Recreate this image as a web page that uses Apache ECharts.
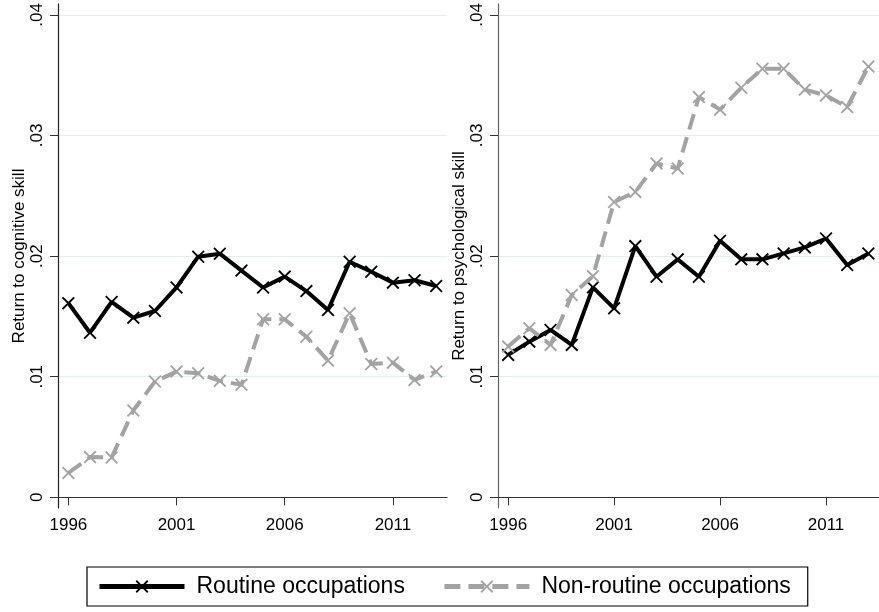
<!DOCTYPE html>
<html>
<head>
<meta charset="utf-8">
<script src="https://cdn.jsdelivr.net/npm/echarts@6/dist/echarts.min.js"></script>
<style>
  html, body { margin: 0; padding: 0; background: #fff; }
  #main { width: 879px; height: 612px; }
</style>
</head>
<body>
<div id="main"></div>
<script>
/* data */
const years = [1996, 1997, 1998, 1999, 2000, 2001, 2002, 2003, 2004,
               2005, 2006, 2007, 2008, 2009, 2010, 2011, 2012, 2013];

const cogRoutine    = [0.0161, 0.01365, 0.0162, 0.0149, 0.01545, 0.0174, 0.01995, 0.0202, 0.0188,
                       0.0174, 0.0183, 0.0171, 0.01553, 0.01953, 0.0187, 0.0178, 0.0180, 0.01752];
const cogNonRoutine = [0.00202, 0.00334, 0.00331, 0.0072, 0.0096, 0.01043, 0.01029, 0.00966, 0.00933,
                       0.01476, 0.01476, 0.01332, 0.01134, 0.01526, 0.01106, 0.01117, 0.00974, 0.01043];
const psyRoutine    = [0.01181, 0.01291, 0.01388, 0.01264, 0.01741, 0.01567, 0.02083, 0.01829, 0.01973,
                       0.01829, 0.02127, 0.01973, 0.01973, 0.02022, 0.02072, 0.02146, 0.01926, 0.02022];
const psyNonRoutine = [0.0125, 0.01402, 0.01264, 0.01677, 0.01834, 0.02449, 0.02532, 0.02767, 0.02726,
                       0.03318, 0.03214, 0.03396, 0.03553, 0.03553, 0.0338, 0.03332, 0.03235, 0.03572];

const xTicks = [1996, 2001, 2006, 2011];
const yTicks = [0, 0.01, 0.02, 0.03, 0.04];

const seriesNames = ['Routine occupations', 'Non-routine occupations'];
const yTitles = ['Return to cognitive skill', 'Return to psychological skill'];

/* filled "x" marker */
const CROSS = 'path://M0,1L1,0L5,4L9,0L10,1L6,5L10,9L9,10L5,6L1,10L0,9L4,5Z';
const BLACK = '#000000';
const GREY  = '#a3a3a3';
const FONT  = 'Liberation Sans, Arial, sans-serif';

const pairs = (vals) => years.map((y, i) => [y, vals[i]]);
const fmtY  = (v) => (v === 0 ? '0' : String(+v.toFixed(2)).replace('0.', '.'));

const xAxisOf = (gridIndex) => ({
  type: 'value', gridIndex,
  min: 1995.52, max: 2013.5,
  axisLine: { show: true, lineStyle: { color: '#333', width: 1.2 } },
  axisTick: { show: true, length: 8, customValues: xTicks, lineStyle: { color: '#333' } },
  axisLabel: { customValues: xTicks, margin: 9, fontSize: 17, color: '#000',
               fontFamily: FONT, formatter: (v) => String(v) },
  splitLine: { show: false }
});

const yAxisOf = (gridIndex, lineColor) => ({
  type: 'value', gridIndex,
  min: -0.00088, max: 0.0409,
  name: yTitles[gridIndex], nameLocation: 'middle', nameGap: 29,
  nameTextStyle: { fontSize: 17, color: '#000', fontFamily: FONT },
  axisLine: { show: true, lineStyle: { color: lineColor, width: 1.2 } },
  axisTick: { show: true, length: 8, customValues: yTicks, lineStyle: { color: '#333' } },
  axisLabel: { customValues: yTicks, rotate: 90, margin: 12, fontSize: 17, color: '#000',
               fontFamily: FONT, formatter: fmtY },
  splitLine: { show: true, lineStyle: { color: '#e6eef0', width: 1.2 } }
});

const lineSeries = (name, idx, vals, color, dashed) => ({
  name, type: 'line',
  xAxisIndex: idx, yAxisIndex: idx,
  data: pairs(vals),
  symbol: CROSS, symbolSize: 13,
  itemStyle: { color },
  lineStyle: { color, width: 4, type: dashed ? [16, 8] : 'solid' },
  animation: false, z: dashed ? 3 : 2
});

const chart = echarts.init(document.getElementById('main'), null, { renderer: 'canvas' });

chart.setOption({
  backgroundColor: '#fff',
  animation: false,
  grid: [
    { left: 58, top: 3, width: 389, bottom: 104 },
    { left: 498, top: 3, width: 389, bottom: 104 }
  ],
  xAxis: [xAxisOf(0), xAxisOf(1)],
  yAxis: [yAxisOf(0, '#222'), yAxisOf(1, '#666')],
  legend: {
    data: seriesNames,
    left: 87, top: 567,
    itemWidth: 85, itemHeight: 16, itemGap: 37,
    padding: [8, 17, 8, 10],
    borderColor: '#000', borderWidth: 1.2,
    lineStyle: { width: 5 },
    textStyle: { fontSize: 23, color: '#000', padding: [0, 0, 0, 7], fontFamily: FONT }
  },
  series: [
    lineSeries(seriesNames[0], 0, cogRoutine, BLACK, false),
    lineSeries(seriesNames[1], 0, cogNonRoutine, GREY, true),
    lineSeries(seriesNames[0], 1, psyRoutine, BLACK, false),
    lineSeries(seriesNames[1], 1, psyNonRoutine, GREY, true)
  ]
});
</script>
</body>
</html>
